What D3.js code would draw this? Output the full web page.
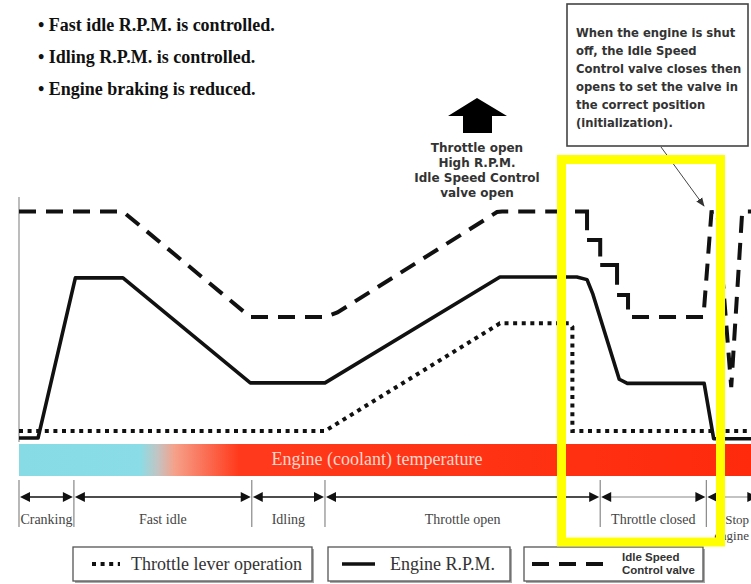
<!DOCTYPE html>
<html>
<head>
<meta charset="utf8">
<script src="https://d3js.org/d3.v7.min.js"></script>
<style>
  body { margin: 0; background: #fff; }
  svg { display: block; }
  .serif { font-family: "Liberation Serif", "DejaVu Serif", serif; }
  .sans { font-family: "DejaVu Sans", "Liberation Sans", sans-serif; font-weight: bold; }
  .sans2 { font-family: "Liberation Sans", Arial, sans-serif; font-weight: bold; }
</style>
</head>
<body>
<svg id="chart" width="751" height="584"></svg>
<script>
// time runs 0..100 across the plot, levels 0..100 up the plot
var throttle = [[0, 3.7], [41.8, 3.7], [65.7, 48], [75.2, 48], [75.6, 46.5], [75.6, 3.7], [100, 3.7]];
var rpm = [[0, 0.8], [2.6, 0.8], [7.7, 66.7], [14.2, 66.7], [31.6, 23.5], [41.8, 23.5], [65.7, 67.1],
  [76.2, 67.1], [77.6, 66], [78.4, 60], [82, 25], [83.1, 23.3], [93.6, 23.3], [94.9, 0.5], [100, 0.5]];
var iscBefore = [[0, 94], [14.2, 94], [31.6, 50.6], [41.8, 50.6], [43.5, 52.5], [65.3, 93.8], [66, 94], [77.6, 94]];
var iscSteps = [[77.6, 94], [77.6, 82.3], [79.4, 82.3], [79.4, 72], [81.7, 72], [81.7, 59.7], [83.2, 59.7], [83.2, 50.6]];
var iscAfter = [[83.2, 50.6], [93.5, 50.6], [94.6, 93.8], [95.4, 94], [97.3, 21.8], [98.8, 94], [100, 94]];

var phaseNames = ['Cranking', 'Fast idle', 'Idling', 'Throttle open', 'Throttle closed', 'Stop\nengine'];
var phaseBounds = [0, 7.5, 31.8, 41.8, 79.4, 93.9, 101];

var notes = ['Fast idle R.P.M. is controlled.', 'Idling R.P.M. is controlled.', 'Engine braking is reduced.'];
var calloutText = ['When the engine is shut', 'off, the Idle Speed', 'Control valve closes then',
  'opens to set the valve in', 'the correct position', '(initialization).'];
var openText = ['Throttle open', 'High R.P.M.', 'Idle Speed Control', 'valve open'];
var barLabel = 'Engine (coolant) temperature';
var legendLabels = ['Throttle lever operation', 'Engine R.P.M.', 'Idle Speed\nControl valve'];

var svg = d3.select('#chart');

var x = d3.scaleLinear().domain([0, 100]).range([19, 751]);
var y = d3.scaleLinear().domain([0, 100]).range([440, 197]);

var styles = {
  dotted: { width: 4, dash: '4,4.6' },
  solid: { width: 3.6, dash: null },
  dashed: { width: 4, dash: '17,10' }
};

function styled(sel, s) {
  return sel.attr('fill', 'none').attr('stroke', '#111')
    .attr('stroke-width', s.width).attr('stroke-dasharray', s.dash);
}

// bullet notes
svg.append('g').selectAll('text')
  .data(notes).enter().append('text')
  .attr('class', 'serif')
  .attr('x', 38).attr('y', (d, i) => 31 + i * 32)
  .attr('font-size', 18).attr('font-weight', 'bold').attr('fill', '#111')
  .text(d => '\u2022 ' + d);

// up arrow and text
svg.append('path')
  .attr('d', 'M477,98 L507,116 L492,116 L492,133 L463,133 L463,116 L448,116 Z')
  .attr('fill', '#000');
svg.append('g').selectAll('text')
  .data(openText).enter().append('text')
  .attr('class', 'sans')
  .attr('x', 477).attr('y', (d, i) => 152 + i * 15)
  .attr('text-anchor', 'middle').attr('font-size', 12).attr('fill', '#333')
  .text(d => d);

// callout box
svg.append('rect').attr('x', 567).attr('y', 4).attr('width', 181).attr('height', 142)
  .attr('fill', '#fff').attr('stroke', '#444').attr('stroke-width', 1.6);
svg.append('g').selectAll('text')
  .data(calloutText).enter().append('text')
  .attr('class', 'sans')
  .attr('x', 576).attr('y', (d, i) => 37 + i * 18)
  .attr('font-size', 11.6).attr('fill', '#333')
  .text(d => d);

svg.append('defs').append('marker')
  .attr('id', 'head').attr('viewBox', '0 0 10 10').attr('refX', 9).attr('refY', 5)
  .attr('markerWidth', 9).attr('markerHeight', 9).attr('orient', 'auto')
  .append('path').attr('d', 'M0,1 L10,5 L0,9 Z').attr('fill', '#333');
svg.append('line').attr('x1', 661).attr('y1', 147).attr('x2', 704).attr('y2', 206)
  .attr('stroke', '#444').attr('stroke-width', 1).attr('marker-end', 'url(#head)');

// temperature bar
var grad = svg.select('defs').append('linearGradient').attr('id', 'temp')
  .attr('x1', '0%').attr('x2', '100%');
[[0, '#86dbe5'], [0.165, '#8adde6'], [0.19, '#c4c3c2'], [0.213, '#f6a089'], [0.3, '#ff3a1c'], [1, '#ff2a0c']]
  .forEach(s => grad.append('stop').attr('offset', s[0]).attr('stop-color', s[1]));
svg.append('rect').attr('x', x(0)).attr('y', 444).attr('width', x(100) - x(0)).attr('height', 32)
  .attr('fill', 'url(#temp)');
svg.append('text').attr('class', 'serif')
  .attr('x', 377).attr('y', 465).attr('text-anchor', 'middle')
  .attr('font-size', 18).attr('fill', '#ffd6cc').text(barLabel);

// left axis
svg.append('line').attr('x1', x(0)).attr('x2', x(0)).attr('y1', y(100)).attr('y2', y(0) + 2)
  .attr('stroke', '#999').attr('stroke-width', 1.3);

// series
var line = d3.line().x(d => x(d[0])).y(d => y(d[1]));

// dashed valve line: stairs get their own dash pattern so each step keeps its corner
var lead = 12;
var before = iscBefore.slice();
var stairs = [[x.invert(x(iscSteps[0][0]) - lead), iscSteps[0][1]]].concat(iscSteps);
var stairDash = [];
for (var i = 0; i + 2 < stairs.length; i += 2) {
  var h = Math.abs(x(stairs[i + 1][0]) - x(stairs[i][0]));
  var v = Math.abs(y(stairs[i + 2][1]) - y(stairs[i + 1][1]));
  stairDash.push(h + 0.66 * v, 0.34 * v);
}
before[before.length - 1] = [x.invert(x(iscSteps[0][0]) - lead - 10), iscSteps[0][1]];
styled(svg.append('path').attr('d', line(before)), styles.dashed);
styled(svg.append('path').attr('d', line(stairs)), styles.dashed)
  .attr('stroke-dasharray', stairDash.join(',')).attr('stroke-linejoin', 'miter');
styled(svg.append('path').attr('d', line(iscAfter)), styles.dashed).attr('stroke-dashoffset', -4);

styled(svg.append('path').attr('d', line(rpm)), styles.solid).attr('stroke-linejoin', 'round');
styled(svg.append('path').attr('d', line(throttle)), styles.dotted);

// phase timeline
var ty = 497;
var tl = svg.append('g');
phaseBounds.forEach(function (b) {
  tl.append('line').attr('x1', x(b)).attr('x2', x(b)).attr('y1', 480).attr('y2', 527)
    .attr('stroke', '#888').attr('stroke-width', 1.2);
});
phaseNames.forEach(function (name, i) {
  var a = x(phaseBounds[i]) + 1, b = x(phaseBounds[i + 1]) - 1;
  var col = i < 4 ? '#111' : '#888';
  tl.append('line').attr('x1', a + 6).attr('x2', b - 6).attr('y1', ty).attr('y2', ty)
    .attr('stroke', col).attr('stroke-width', i < 4 ? 1.4 : 1.1);
  tl.append('path').attr('d', 'M' + a + ',' + ty + ' l10,-5 l0,10 Z').attr('fill', '#111');
  tl.append('path').attr('d', 'M' + b + ',' + ty + ' l-10,-5 l0,10 Z').attr('fill', '#111');
  var lines = name.split('\n');
  var last = i === phaseNames.length - 1;
  tl.append('g').selectAll('text').data(lines).enter().append('text')
    .attr('class', 'serif')
    .attr('x', last ? 749 : (a + b) / 2).attr('y', (d, k) => 524 + k * 16)
    .attr('text-anchor', last ? 'end' : 'middle')
    .attr('font-size', last ? 13 : 14).attr('fill', '#444')
    .text(d => d);
});

// legend
var legendX = [[73, 239], [328, 182], [524, 179]];
var sampleStyles = [styles.dotted, styles.solid, styles.dashed];
var lg = svg.append('g');
legendLabels.forEach(function (lab, i) {
  var bx = legendX[i][0], bw = legendX[i][1];
  lg.append('rect').attr('x', bx + 2).attr('y', 549).attr('width', bw).attr('height', 34)
    .attr('fill', '#aaa');
  lg.append('rect').attr('x', bx).attr('y', 547).attr('width', bw).attr('height', 34)
    .attr('fill', '#fff').attr('stroke', '#555').attr('stroke-width', 1.3);
  var s0, s1;
  if (i === 0) { s0 = bx + 19; s1 = bx + 47; }
  else if (i === 1) { s0 = bx + 14; s1 = bx + 47; }
  else { s0 = bx + 8; s1 = bx + 89; }
  styled(lg.append('line').attr('x1', s0).attr('x2', s1).attr('y1', 564).attr('y2', 564), sampleStyles[i]);
  if (i < 2) {
    lg.append('text').attr('class', 'serif')
      .attr('x', i === 0 ? bx + 58 : bx + 62).attr('y', 570)
      .attr('font-size', 18).attr('fill', '#333').text(lab);
  } else {
    lg.append('g').selectAll('text').data(lab.split('\n')).enter().append('text')
      .attr('class', 'sans2')
      .attr('x', bx + 98).attr('y', (d, k) => 561 + k * 12.5)
      .attr('font-size', 11.5).attr('fill', '#333').text(d => d);
  }
});

// highlight frame
svg.append('rect').attr('x', 561.5).attr('y', 159.5).attr('width', 159).attr('height', 382.5)
  .attr('fill', 'none').attr('stroke', '#ffff00').attr('stroke-width', 9);
</script>
</body>
</html>
